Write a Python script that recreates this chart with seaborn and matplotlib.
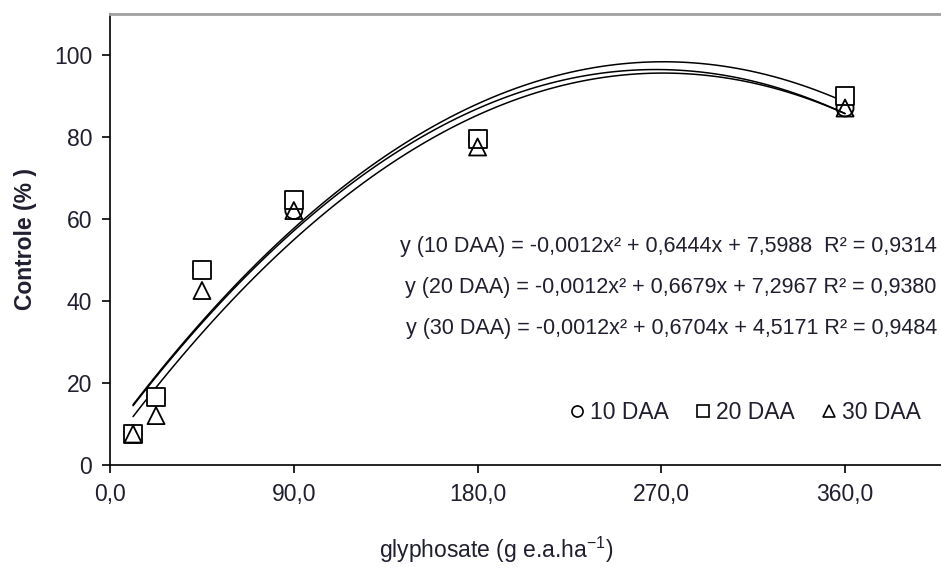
import numpy as np
import pandas as pd
import matplotlib
matplotlib.use('Agg')
import matplotlib.pyplot as plt
import seaborn as sns
from matplotlib.lines import Line2D

# doses of glyphosate (g e.a. ha-1)
doses = [11.25, 22.5, 45, 90, 180, 360]

# control (%)
daa10 = [7.5, 16.5, 47.5, 62.0, 79.5, 87.0]
daa20 = [7.5, 16.5, 47.5, 64.5, 79.5, 90.0]
daa30 = [7.5, 12.0, 42.5, 62.0, 77.5, 87.0]

series_names = ['10 DAA', '20 DAA', '30 DAA']
series_markers = ['o', 's', '^']
series_fill = ['none', 'white', 'none']
equations = [
    'y (10 DAA) = -0,0012x\u00b2 + 0,6444x + 7,5988  R\u00b2 = 0,9314',
    'y (20 DAA) = -0,0012x\u00b2 + 0,6679x + 7,2967 R\u00b2 = 0,9380',
    'y (30 DAA) = -0,0012x\u00b2 + 0,6704x + 4,5171 R\u00b2 = 0,9484',
]

x_ticks = [0, 90, 180, 270, 360]
x_ticklabels = ['0,0', '90,0', '180,0', '270,0', '360,0']
y_ticks = [0, 20, 40, 60, 80, 100]

df = pd.DataFrame({
    'dose': doses * 3,
    'controle': daa10 + daa20 + daa30,
    'serie': np.repeat(series_names, len(doses)),
})

sns.set_style('ticks')
plt.rcParams['font.family'] = ['Liberation Sans', 'DejaVu Sans']
plt.rcParams['mathtext.fontset'] = 'custom'
plt.rcParams['mathtext.rm'] = 'Liberation Sans'
txt = '#1f1f2f'

fig = plt.figure(figsize=(9.41, 5.71), dpi=100)
ax = fig.add_axes([0.117, 0.186, 0.883, 0.79])

for i, (name, mk, fc) in enumerate(zip(series_names, series_markers, series_fill)):
    sub = df[df['serie'] == name]
    sns.regplot(
        data=sub, x='dose', y='controle', order=2, ci=None, ax=ax,
        color='black', marker=mk, truncate=True,
        scatter_kws={'facecolors': fc, 'edgecolors': 'black', 's': 150,
                     'linewidths': 1.3, 'alpha': 1, 'zorder': 3 + i},
        line_kws={'lw': 1.1, 'color': 'black', 'zorder': 2},
    )

ax.set_xlim(0, 407)
ax.set_ylim(0, 110)
ax.set_xticks(x_ticks)
ax.set_xticklabels(x_ticklabels)
ax.set_yticks(y_ticks)
ax.tick_params(axis='both', labelsize=16.5, colors='black', labelcolor=txt,
               length=6, width=1.2, pad=7)

ax.spines['right'].set_visible(False)
ax.spines['top'].set_color('#a0a0a0')
ax.spines['top'].set_linewidth(2)
for s in ['left', 'bottom']:
    ax.spines[s].set_linewidth(1.2)
    ax.spines[s].set_color('black')

ax.set_xlabel('glyphosate (g e.a.ha$^{\\mathregular{-1}}$)', fontsize=16.5, color=txt)
ax.xaxis.set_label_coords(0.465, -0.155)
ax.set_ylabel('Controle (% )', fontsize=16.5, fontweight='bold', color=txt, labelpad=12)

for i, eq in enumerate(equations):
    ax.text(0.995, 0.485 - i * 0.091, eq, transform=ax.transAxes, ha='right',
            va='center', fontsize=15.5, color=txt)

handles = [Line2D([], [], ls='none', marker=m, markersize=8, markerfacecolor='none',
                  markeredgecolor='black', markeredgewidth=1.2) for m in series_markers]
ax.legend(handles, series_names, ncol=3, frameon=False, loc='lower right',
          bbox_to_anchor=(1.0, 0.045), fontsize=16.5, handletextpad=0.05,
          columnspacing=1.0, handlelength=1.0, labelcolor=txt)

plt.savefig('out.png', dpi=100)
